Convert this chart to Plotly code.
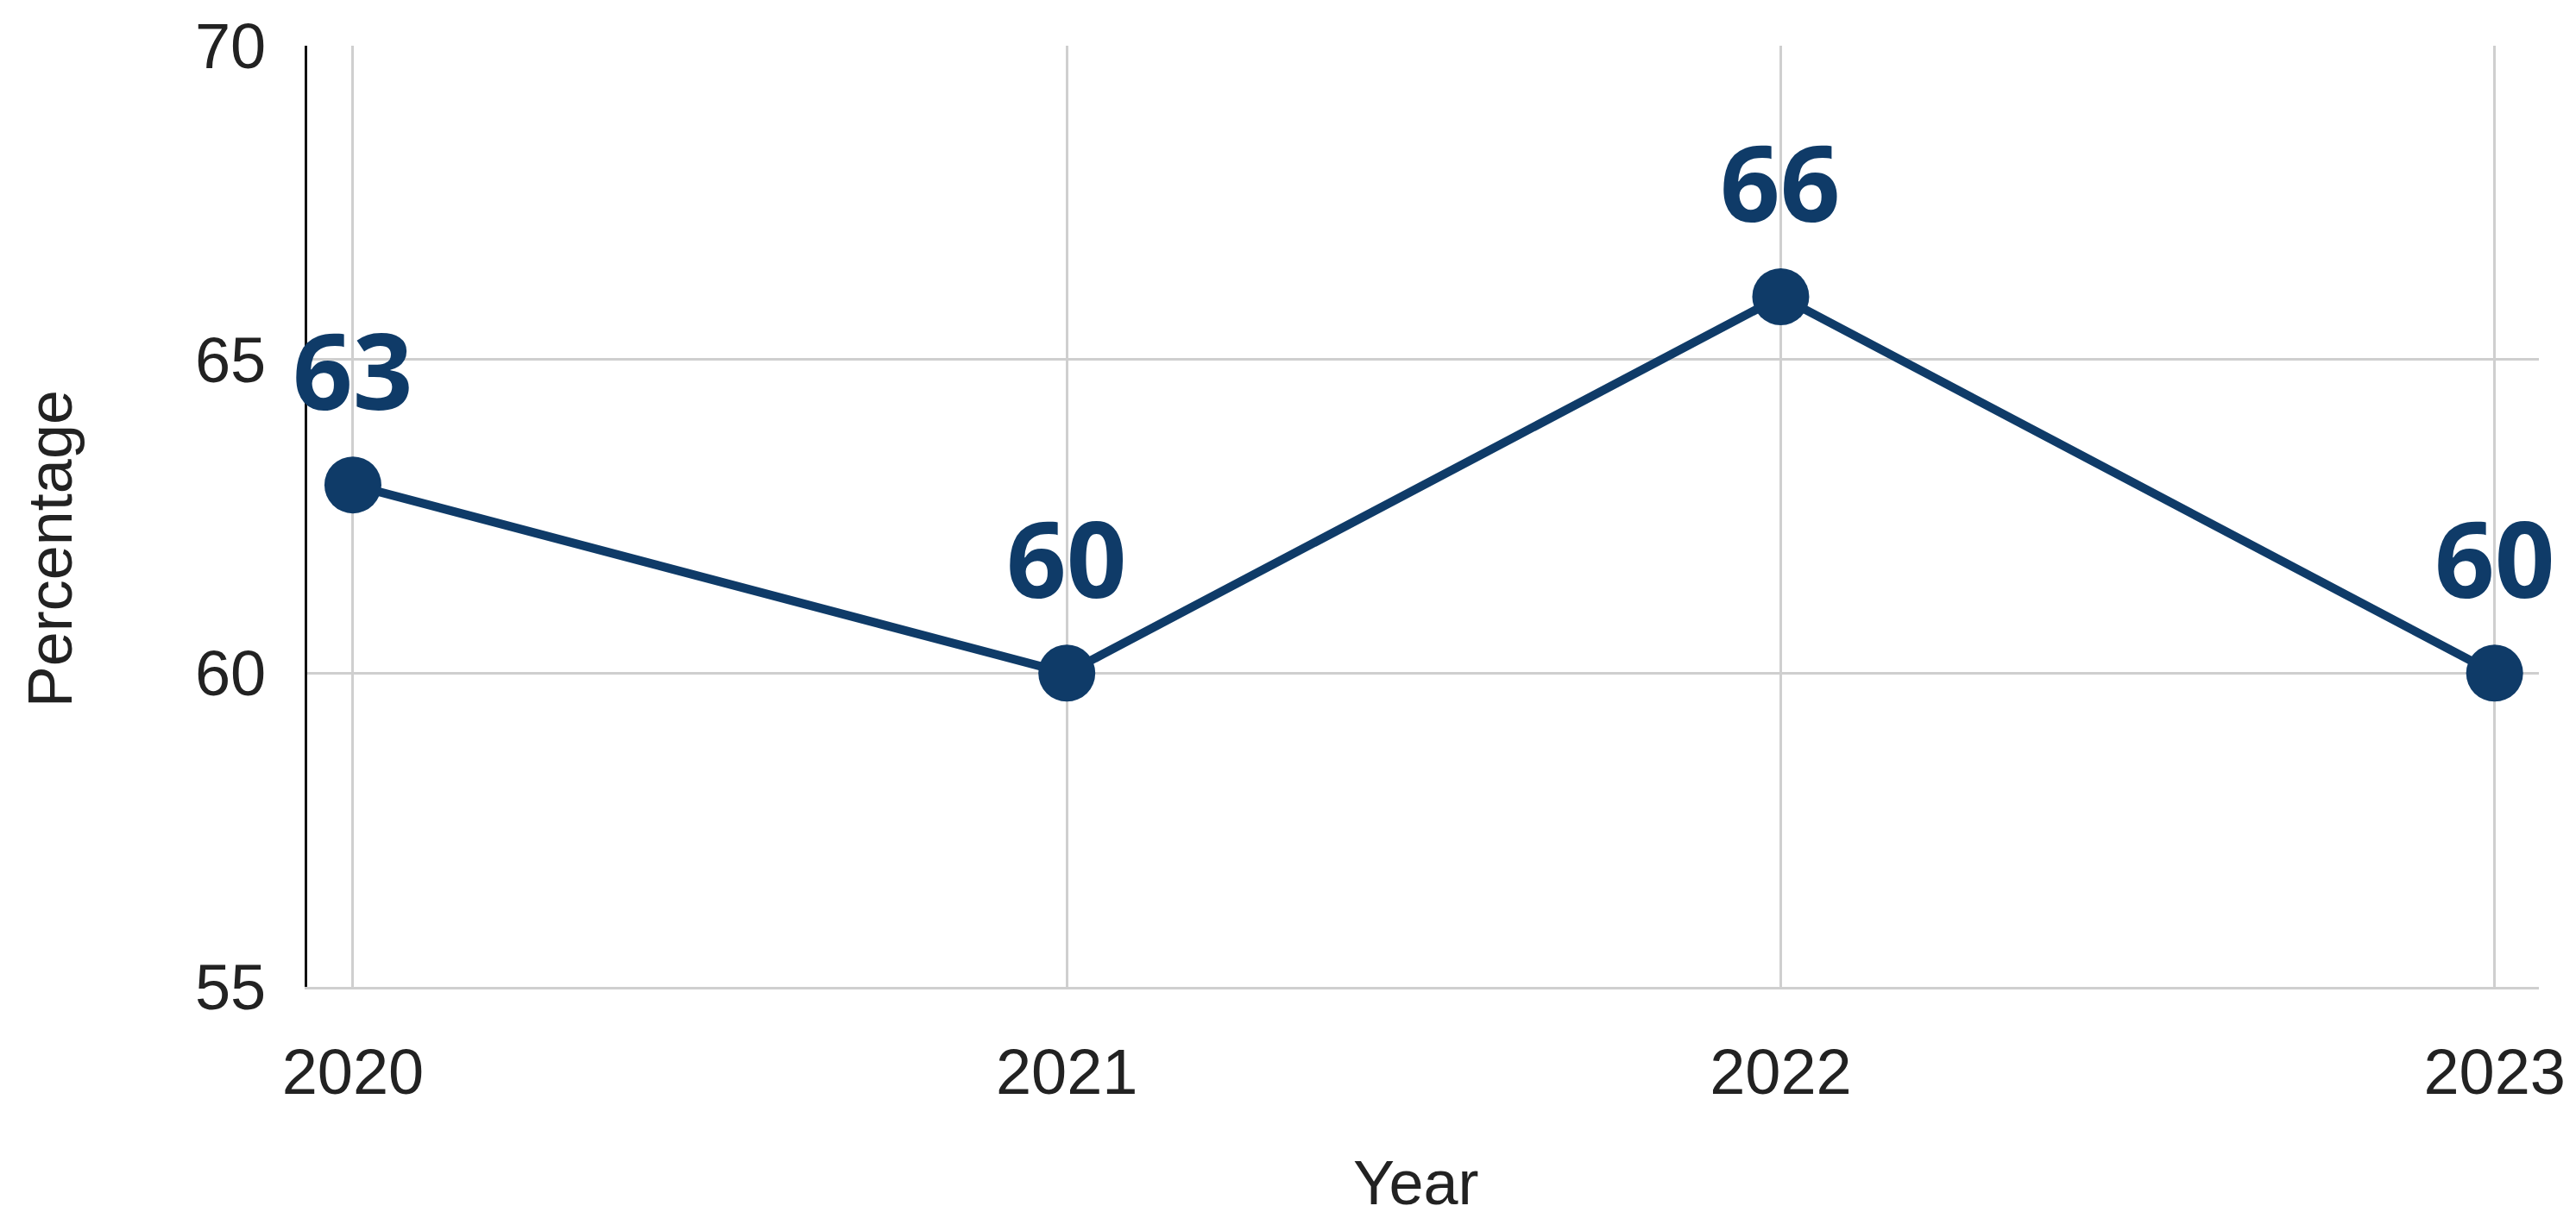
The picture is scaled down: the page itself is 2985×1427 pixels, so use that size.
import plotly.graph_objects as go

# Yearly percentage series
years = ["2020", "2021", "2022", "2023"]
values = [63, 60, 66, 60]
y_ticks = [55, 60, 65, 70]

navy = "#0f3b68"
grid = "#cfcfcf"

fig = go.Figure()
fig.add_trace(go.Scatter(
    x=years,
    y=values,
    mode="lines+markers",
    line=dict(color=navy, width=10),
    marker=dict(color=navy, size=66),
    cliponaxis=False,
    showlegend=False,
))

# Value labels above each point (category index used for x)
for i, v in enumerate(values):
    fig.add_annotation(
        x=i, y=v, text=str(v), showarrow=False,
        yshift=134, yanchor="middle", xanchor="center",
        font=dict(family="Open Sans", size=122, color=navy, weight="bold"),
    )

# Axis titles
fig.add_annotation(
    xref="paper", yref="paper", x=0.4968, y=-0.208, text="Year",
    showarrow=False, xanchor="center", yanchor="middle",
    font=dict(family="Liberation Sans", size=72, color="#222222"),
)
fig.add_annotation(
    xref="paper", yref="paper", x=-0.1154, y=0.465, text="Percentage",
    showarrow=False, textangle=-90, xanchor="center", yanchor="middle",
    font=dict(family="Liberation Sans", size=72, color="#222222"),
)

fig.update_layout(
    width=2985, height=1427,
    margin=dict(l=356, r=38, t=48, b=283),
    paper_bgcolor="white", plot_bgcolor="white",
    xaxis=dict(
        type="category",
        range=[-0.064, 3.062],
        showgrid=True, gridcolor=grid, gridwidth=3,
        showline=True, linecolor=grid, linewidth=3,
        ticks="", ticklabelstandoff=32,
        tickfont=dict(family="Liberation Sans", size=74, color="#222222"),
        zeroline=False,
    ),
    yaxis=dict(
        range=[55, 70],
        tickvals=y_ticks,
        showgrid=True, gridcolor=grid, gridwidth=3,
        showline=True, linecolor="#111111", linewidth=3,
        ticks="", ticklabelstandoff=30,
        tickfont=dict(family="Liberation Sans", size=74, color="#222222"),
        zeroline=False,
    ),
)

fig.write_html("out.html")
